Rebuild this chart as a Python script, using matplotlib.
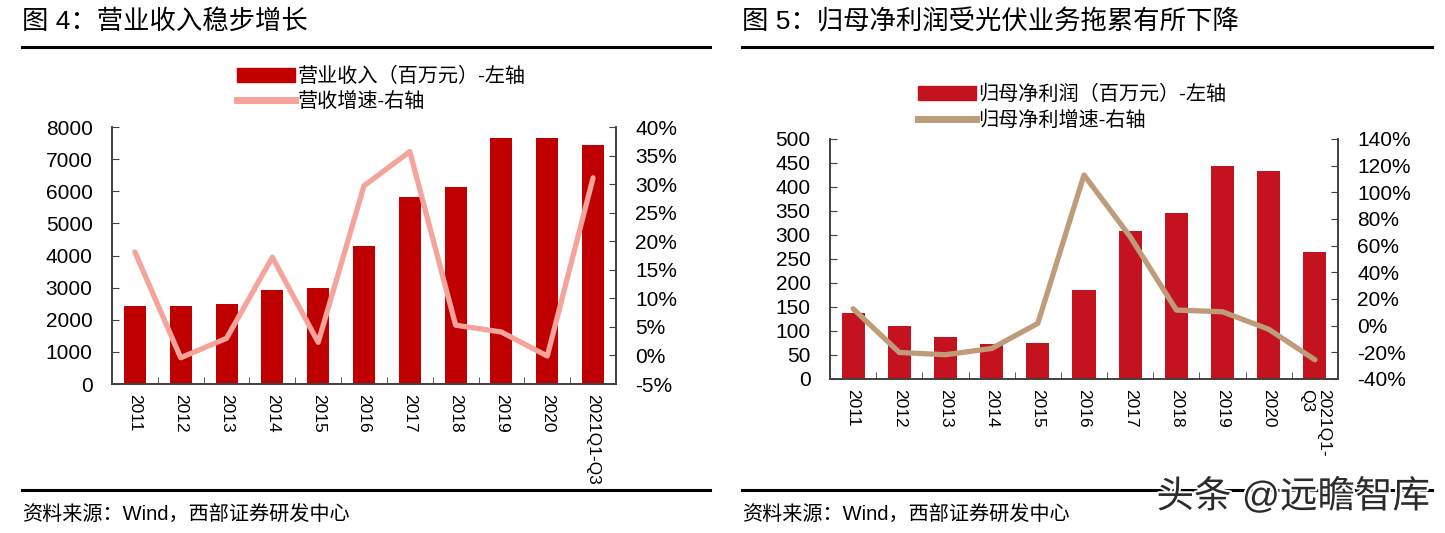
import matplotlib
matplotlib.use("Agg")
import matplotlib.pyplot as plt
import matplotlib.patheffects as pe
from matplotlib.patches import Patch
from matplotlib.lines import Line2D
from matplotlib.ticker import FuncFormatter, MultipleLocator

plt.rcParams['font.family'] = ['Liberation Sans', 'Noto Sans CJK SC', 'DejaVu Sans']

years = ['2011', '2012', '2013', '2014', '2015', '2016', '2017', '2018', '2019', '2020']
revenue = [2440, 2420, 2500, 2920, 2980, 4310, 5820, 6120, 7650, 7650, 7440]
revenue_growth = [18.1, -0.4, 3.0, 17.2, 2.3, 29.7, 35.7, 5.3, 4.1, -0.1, 31.1]
profit = [138, 110, 88, 72, 74, 186, 309, 345, 443, 433, 265]
profit_growth = [12.7, -20.1, -21.8, -17.1, 1.7, 113, 66.7, 11.7, 10.4, -2.7, -25.6]

labels_left = years + ['2021Q1-Q3']
labels_right = years + ['2021Q1-\nQ3']

AXIS_COLOR = '#404040'
W, H = 1445, 533

fig = plt.figure(figsize=(14.45, 5.33), dpi=100)


def px_rect(left, right, top, bottom):
    return [left / W, 1 - bottom / H, (right - left) / W, (bottom - top) / H]


def style_axes(ax, ax2, n):
    for a in (ax, ax2):
        a.spines['top'].set_visible(False)
        for s in ('left', 'right', 'bottom'):
            a.spines[s].set_color(AXIS_COLOR)
            a.spines[s].set_linewidth(1.2)
    ax.set_xlim(-0.5, n - 0.5)
    ax.set_xticks(range(n))
    ax.set_xticks([i + 0.5 for i in range(n - 1)], minor=True)
    ax.tick_params(axis='x', which='major', length=0, pad=7, labelsize=12.5, labelrotation=-90)
    ax.tick_params(axis='x', which='minor', length=5, direction='in', color=AXIS_COLOR)
    ax.tick_params(axis='y', direction='in', length=5, labelsize=15, pad=14, color=AXIS_COLOR)
    ax2.tick_params(axis='y', direction='in', length=5, labelsize=15, pad=14, color=AXIS_COLOR)


def frame(x0, x1, title):
    fig.text(x0 / W, 1 - 22 / H, title, fontsize=19, va='center', ha='left')
    fig.add_artist(Line2D([x0 / W, x1 / W], [1 - 47 / H] * 2, color='black', lw=2.2))
    fig.add_artist(Line2D([x0 / W, x1 / W], [1 - 490 / H] * 2, color='black', lw=2.2))
    fig.text(x0 / W, 1 - 514 / H, '资料来源：Wind，西部证券研发中心', fontsize=14.5, va='center', ha='left')


def legend(handles, x, y):
    fig.legend(handles=handles, loc='upper left', bbox_to_anchor=(x / W, 1 - y / H), frameon=False,
               fontsize=14.5, handlelength=2.9, handleheight=0.7, handletextpad=0.1,
               labelspacing=0.3, borderaxespad=0, borderpad=0)


pct = FuncFormatter(lambda v, _: f'{v:.0f}%')

# ---- left: 营业收入 ----
n = len(revenue)
ax = fig.add_axes(px_rect(112, 616, 127, 384))
ax2 = ax.twinx()
ax.bar(range(n), revenue, width=0.48, color='#C00000', zorder=2)
ax2.plot(range(n), revenue_growth, color='#F5A39B', lw=3.8, solid_capstyle='round')
ax.set_ylim(0, 8000)
ax.yaxis.set_major_locator(MultipleLocator(1000))
ax2.set_ylim(-5, 40)
ax2.yaxis.set_major_locator(MultipleLocator(5))
ax2.yaxis.set_major_formatter(pct)
style_axes(ax, ax2, n)
ax.set_xticklabels(labels_left, va='top', ha='center')
legend([Patch(color='#C00000', label='营业收入（百万元）-左轴'),
        Line2D([], [], color='#F5A39B', lw=5, label='营收增速-右轴')], 237, 67)
frame(22, 710, '图 4：营业收入稳步增长')

# ---- right: 归母净利润 ----
n = len(profit)
bx = fig.add_axes(px_rect(830, 1338, 139, 379))
bx2 = bx.twinx()
bx.bar(range(n), profit, width=0.5, color='#C5121F', zorder=2)
bx2.plot(range(n), profit_growth, color='#BF9C79', lw=3.8, solid_capstyle='round')
bx.set_ylim(0, 500)
bx.yaxis.set_major_locator(MultipleLocator(50))
bx2.set_ylim(-40, 140)
bx2.yaxis.set_major_locator(MultipleLocator(20))
bx2.yaxis.set_major_formatter(pct)
style_axes(bx, bx2, n)
bx.set_xticklabels(labels_right, va='top', ha='center', multialignment='left')
legend([Patch(color='#C5121F', label='归母净利润（百万元）-左轴'),
        Line2D([], [], color='#BF9C79', lw=5, label='归母净利增速-右轴')], 918, 85)
frame(742, 1432, '图 5：归母净利润受光伏业务拖累有所下降')

# watermark
fig.text(1430 / W, 1 - 497 / H, '头条 @远瞻智库', fontsize=27, ha='right', va='center',
         color='#2b2b2b', path_effects=[pe.withStroke(linewidth=3, foreground='white')])

fig.savefig('out.png', dpi=100)
